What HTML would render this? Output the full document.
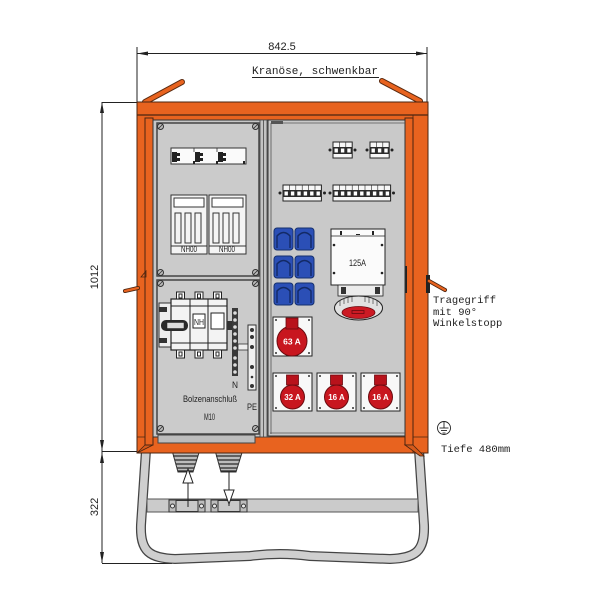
<!DOCTYPE html>
<html><head><meta charset="utf-8"><style>html,body{margin:0;padding:0;background:#fff}svg{display:block}</style></head>
<body>
<svg width="600" height="600" viewBox="0 0 600 600" xmlns="http://www.w3.org/2000/svg">
<rect width="600" height="600" fill="#fff"/>

<!-- ===== dimensions ===== -->
<g stroke="#222" stroke-width="1" fill="none">
  <line x1="137" y1="47" x2="137" y2="102"/>
  <line x1="427" y1="47" x2="427" y2="102"/>
  <line x1="137" y1="53.5" x2="427" y2="53.5"/>
  <line x1="102" y1="102" x2="102" y2="563"/>
  <line x1="102" y1="102.5" x2="137" y2="102.5"/>
  <line x1="102" y1="451.5" x2="142" y2="451.5"/>
  <line x1="102" y1="563.5" x2="172" y2="563.5"/>
  <line x1="252" y1="77.5" x2="379" y2="77.5"/>
</g>
<g fill="#222">
  <polygon points="137,53.5 148,51.5 148,55.5"/>
  <polygon points="427,53.5 416,51.5 416,55.5"/>
  <polygon points="102,102 100,113 104,113"/>
  <polygon points="102,451 100,440 104,440"/>
  <polygon points="102,452 100,463 104,463"/>
  <polygon points="102,563 100,552 104,552"/>
</g>
<text x="282" y="50" font-family="Liberation Sans, sans-serif" font-size="11" text-anchor="middle" fill="#222">842.5</text>
<text x="252" y="74" font-family="Liberation Mono, monospace" font-size="11" fill="#222" textLength="126" lengthAdjust="spacingAndGlyphs">Kranöse, schwenkbar</text>
<text transform="translate(98,277) rotate(-90)" font-family="Liberation Sans, sans-serif" font-size="11" text-anchor="middle" fill="#222">1012</text>
<text transform="translate(98,507) rotate(-90)" font-family="Liberation Sans, sans-serif" font-size="11" text-anchor="middle" fill="#222">322</text>

<!-- ===== crane lugs ===== -->
<g stroke-linecap="round">
  <line x1="145" y1="102" x2="182" y2="82" stroke="#5a2a10" stroke-width="6"/>
  <line x1="145" y1="102" x2="182" y2="82" stroke="#e8631f" stroke-width="4"/>
  <line x1="382" y1="81" x2="420" y2="101" stroke="#5a2a10" stroke-width="6"/>
  <line x1="382" y1="81" x2="420" y2="101" stroke="#e8631f" stroke-width="4"/>
</g>

<!-- ===== stand tube ===== -->
<path d="M146,450 L141,525 C140,552 150,558 175,559 L250,556 Q280,552 310,556 L390,559 C415,558 425,552 424,525 L419,450" fill="none" stroke="#444" stroke-width="10"/>
<path d="M146,450 L141,525 C140,552 150,558 175,559 L250,556 Q280,552 310,556 L390,559 C415,558 425,552 424,525 L419,450" fill="none" stroke="#cfcfcf" stroke-width="7.5"/>
<!-- crossbar -->
<rect x="147" y="499" width="271" height="13" fill="#cbcbcb" stroke="#555" stroke-width="1"/>
<!-- clamps -->
<g stroke="#333" stroke-width="1">
  <rect x="169" y="500" width="36" height="12" fill="#bdbdbd"/>
  <rect x="176" y="500.5" width="22" height="11" fill="#c8c8c8"/>
  <circle cx="172.5" cy="506" r="2" fill="#eee"/>
  <circle cx="201.5" cy="506" r="2" fill="#eee"/>
  <rect x="211" y="500" width="36" height="12" fill="#bdbdbd"/>
  <rect x="218" y="500.5" width="22" height="11" fill="#c8c8c8"/>
  <circle cx="214.5" cy="506" r="2" fill="#eee"/>
  <circle cx="243.5" cy="506" r="2" fill="#eee"/>
</g>

<!-- ===== cable glands ===== -->
<g>
  <polygon points="170,443 202,443 193,472 178,472" fill="#bcbcbc" stroke="#333" stroke-width="1"/>
  <polygon points="213,443 245,443 236,472 221,472" fill="#bcbcbc" stroke="#333" stroke-width="1"/>
  <g stroke="#2a2a2a" stroke-width="1.3">
    <line x1="171" y1="448" x2="201" y2="448"/><line x1="172" y1="452" x2="199" y2="452"/>
    <line x1="173" y1="456" x2="198" y2="456"/><line x1="175" y1="460" x2="197" y2="460"/>
    <line x1="176" y1="464" x2="195" y2="464"/><line x1="177" y1="468" x2="194" y2="468"/>
    <line x1="178" y1="471" x2="193" y2="471"/>
    <line x1="214" y1="448" x2="244" y2="448"/><line x1="215" y1="452" x2="242" y2="452"/>
    <line x1="216" y1="456" x2="241" y2="456"/><line x1="218" y1="460" x2="240" y2="460"/>
    <line x1="219" y1="464" x2="238" y2="464"/><line x1="220" y1="468" x2="237" y2="468"/>
    <line x1="221" y1="471" x2="236" y2="471"/>
  </g>
</g>
<!-- in/out arrows -->
<g stroke="#222" stroke-width="1" fill="#fff">
  <line x1="188" y1="474" x2="188" y2="507"/>
  <polygon points="188,469 183,483 193,483"/>
  <line x1="229" y1="472" x2="229" y2="506"/>
  <polygon points="224,490 234,490 229,504"/>
</g>

<!-- ===== cabinet orange body ===== -->
<rect x="137" y="102" width="291" height="351" fill="#e8631f" stroke="#4a2410" stroke-width="1"/>
<line x1="137" y1="115" x2="428" y2="115" stroke="#4a2410" stroke-width="1.2"/>
<line x1="153" y1="120" x2="413" y2="120" stroke="#4a2410" stroke-width="0.8"/>
<line x1="137" y1="437" x2="428" y2="437" stroke="#4a2410" stroke-width="0.8"/>
<polygon points="137,453 145,445 153,445" fill="#d65a1b" stroke="#4a2410" stroke-width="0.8"/>
<!-- door strips -->
<rect x="145" y="118" width="8" height="327" fill="#e8631f" stroke="#4a2410" stroke-width="1"/>
<rect x="405" y="118" width="8" height="327" fill="#e8631f" stroke="#4a2410" stroke-width="1"/>
<line x1="413" y1="115" x2="413" y2="453" stroke="#4a2410" stroke-width="0.8"/>
<polygon points="405,445 413,445 424,456 420,456" fill="#d65a1b" stroke="#4a2410" stroke-width="0.8"/>

<!-- left door latches / small parts -->
<rect x="153" y="173" width="7" height="13" fill="#e8631f" stroke="#4a2410" stroke-width="0.8"/>
<rect x="153" y="375" width="7" height="10" fill="#e8631f" stroke="#4a2410" stroke-width="0.8"/>
<path d="M141,277 L146,271 L146,277 Z" fill="none" stroke="#4a2410" stroke-width="0.8"/>
<!-- left handle -->
<line x1="125" y1="291" x2="138" y2="288" stroke="#4a2410" stroke-width="4" stroke-linecap="round"/>
<line x1="125" y1="291" x2="138" y2="288" stroke="#e8631f" stroke-width="2.4" stroke-linecap="round"/>
<!-- right handle -->
<rect x="426" y="275" width="4" height="18" fill="#222"/>
<line x1="429" y1="281" x2="445" y2="290" stroke="#4a2410" stroke-width="4" stroke-linecap="round"/>
<line x1="429" y1="281" x2="445" y2="290" stroke="#e8631f" stroke-width="2.4" stroke-linecap="round"/>
<rect x="403" y="266" width="4" height="27" fill="#222"/>

<!-- ===== left section ===== -->
<rect x="153" y="120" width="109" height="317" fill="#c7c7c7" stroke="#333" stroke-width="1"/>
<rect x="157" y="123" width="102" height="153" fill="#cbcbcb" stroke="#444" stroke-width="1.5"/>
<rect x="157" y="280" width="102" height="154" fill="#cbcbcb" stroke="#444" stroke-width="1.5"/>
<rect x="158" y="435" width="97" height="8" fill="#bdbdbd" stroke="#444" stroke-width="1"/>
<!-- screws -->
<g fill="#bbb" stroke="#333" stroke-width="1">
  <circle cx="160.5" cy="126.5" r="3"/><circle cx="255.5" cy="126.5" r="3"/>
  <circle cx="160.5" cy="272.5" r="3"/><circle cx="255.5" cy="272.5" r="3"/>
  <circle cx="160.5" cy="283.5" r="3"/><circle cx="255.5" cy="283.5" r="3"/>
  <circle cx="160.5" cy="428.5" r="3"/><circle cx="255.5" cy="428.5" r="3"/>
</g>
<g stroke="#333" stroke-width="0.8">
  <line x1="158.5" y1="128.5" x2="162.5" y2="124.5"/><line x1="253.5" y1="128.5" x2="257.5" y2="124.5"/>
  <line x1="158.5" y1="274.5" x2="162.5" y2="270.5"/><line x1="253.5" y1="274.5" x2="257.5" y2="270.5"/>
  <line x1="158.5" y1="285.5" x2="162.5" y2="281.5"/><line x1="253.5" y1="285.5" x2="257.5" y2="281.5"/>
  <line x1="158.5" y1="430.5" x2="162.5" y2="426.5"/><line x1="253.5" y1="430.5" x2="257.5" y2="426.5"/>
</g>

<!-- fuse strip -->
<rect x="171" y="148" width="75" height="16" fill="#fafafa" stroke="#333" stroke-width="1"/>
<g fill="#222">
  <rect x="172" y="152" width="5" height="10"/><rect x="177" y="153" width="3" height="3"/><rect x="177" y="158" width="3" height="3"/>
  <rect x="195" y="152" width="5" height="10"/><rect x="200" y="153" width="3" height="3"/><rect x="200" y="158" width="3" height="3"/>
  <rect x="218" y="152" width="5" height="10"/><rect x="223" y="153" width="3" height="3"/><rect x="223" y="158" width="3" height="3"/>
  <rect x="193" y="161" width="2" height="3"/><rect x="216" y="161" width="2" height="3"/><rect x="243" y="161" width="2" height="3"/>
</g>
<line x1="194" y1="148" x2="194" y2="152" stroke="#333" stroke-width="0.8"/>
<line x1="217" y1="148" x2="217" y2="152" stroke="#333" stroke-width="0.8"/>

<!-- NH00 fuse bases -->
<g stroke="#333" stroke-width="1" fill="#f4f4f4">
  <rect x="171" y="195" width="36" height="59"/>
  <rect x="174" y="198" width="30" height="9" fill="#fff"/>
  <rect x="175" y="213" width="6" height="30"/><rect x="185" y="213" width="6" height="30"/><rect x="195" y="213" width="6" height="30"/>
  <line x1="171" y1="246" x2="207" y2="246"/>
  <rect x="209" y="195" width="37" height="59"/>
  <rect x="212" y="198" width="31" height="9" fill="#fff"/>
  <rect x="213" y="213" width="6" height="30"/><rect x="223" y="213" width="6" height="30"/><rect x="233" y="213" width="6" height="30"/>
  <line x1="209" y1="246" x2="246" y2="246"/>
</g>
<text x="181" y="252" font-family="Liberation Sans, sans-serif" font-size="8" fill="#222" textLength="16" lengthAdjust="spacingAndGlyphs">NH00</text>
<text x="219" y="252" font-family="Liberation Sans, sans-serif" font-size="8" fill="#222" textLength="16" lengthAdjust="spacingAndGlyphs">NH00</text>

<!-- switch disconnector -->
<rect x="159" y="303" width="12" height="44" fill="#eeeeee" stroke="#333" stroke-width="1"/>
<rect x="159" y="307" width="8" height="5" fill="#333"/>
<rect x="159" y="338" width="8" height="5" fill="#333"/>
<rect x="171" y="299" width="56" height="51" fill="#f3f3f3" stroke="#222" stroke-width="1.2"/>
<g stroke="#222" stroke-width="1">
  <line x1="190" y1="299" x2="190" y2="350"/><line x1="208" y1="299" x2="208" y2="350"/>
  <line x1="171" y1="306" x2="227" y2="306"/><line x1="171" y1="343" x2="227" y2="343"/>
</g>
<g stroke="#222" stroke-width="1" fill="#fff">
  <rect x="176.5" y="292" width="8" height="7"/><rect x="195" y="292" width="8" height="7"/><rect x="213.5" y="292" width="8" height="7"/>
  <rect x="176.5" y="350" width="8" height="8"/><rect x="195" y="350" width="8" height="8"/><rect x="213.5" y="350" width="8" height="8"/>
  <rect x="179" y="294" width="3" height="4"/><rect x="197.5" y="294" width="3" height="4"/><rect x="216" y="294" width="3" height="4"/>
  <rect x="179" y="352" width="3" height="4"/><rect x="197.5" y="352" width="3" height="4"/><rect x="216" y="352" width="3" height="4"/>
  <rect x="193" y="314" width="12" height="14"/>
  <rect x="211" y="313" width="13" height="16"/>
</g>
<text x="194" y="325" font-family="Liberation Sans, sans-serif" font-size="8" fill="#222" textLength="10" lengthAdjust="spacingAndGlyphs">NH</text>
<rect x="161" y="320" width="27" height="11" rx="5" fill="#2a2a2a"/>
<rect x="167" y="322.5" width="17" height="6" fill="#ddd" stroke="#222" stroke-width="0.5"/>
<rect x="227" y="321" width="5" height="9" fill="#333"/>

<!-- N and PE bars -->
<rect x="232" y="308" width="6" height="68" fill="#3a3a3a"/>
<g fill="#ddd">
  <circle cx="235" cy="313" r="1.8"/><circle cx="235" cy="320" r="1.8"/><circle cx="235" cy="327" r="1.8"/>
  <circle cx="235" cy="334" r="1.8"/><circle cx="235" cy="341" r="1.8"/><circle cx="235" cy="348" r="1.8"/>
  <circle cx="235" cy="358" r="1.8"/><circle cx="235" cy="365" r="1.8"/><circle cx="235" cy="372" r="1.8"/>
</g>
<rect x="238" y="344" width="10" height="6" fill="#eee" stroke="#333" stroke-width="0.8"/>
<rect x="248" y="325" width="8" height="65" fill="#f0f0f0" stroke="#333" stroke-width="1"/>
<g fill="#333">
  <circle cx="252" cy="330" r="2"/><circle cx="252" cy="337" r="2"/><circle cx="252" cy="347" r="2"/>
  <circle cx="252" cy="367" r="2"/><circle cx="252" cy="377" r="1.3"/><circle cx="252" cy="386" r="2"/>
</g>
<text x="232" y="388" font-family="Liberation Sans, sans-serif" font-size="9" fill="#222" textLength="6" lengthAdjust="spacingAndGlyphs">N</text>
<text x="247" y="410" font-family="Liberation Sans, sans-serif" font-size="9" fill="#222" textLength="10" lengthAdjust="spacingAndGlyphs">PE</text>
<text x="183" y="402" font-family="Liberation Sans, sans-serif" font-size="9.5" fill="#222" textLength="54" lengthAdjust="spacingAndGlyphs">Bolzenanschluß</text>
<text x="204" y="420" font-family="Liberation Sans, sans-serif" font-size="9" fill="#222" textLength="11" lengthAdjust="spacingAndGlyphs">M10</text>

<!-- ===== divider ===== -->
<rect x="260" y="120" width="10" height="317" fill="#c3c3c3" stroke="#444" stroke-width="0.8"/>
<line x1="263.5" y1="120" x2="263.5" y2="437" stroke="#444" stroke-width="0.8"/>
<line x1="267" y1="120" x2="267" y2="437" stroke="#444" stroke-width="0.8"/>

<!-- ===== right panel ===== -->
<rect x="268" y="120" width="137" height="316" fill="#c9c9c9" stroke="#333" stroke-width="1"/>
<line x1="271" y1="123" x2="271" y2="434" stroke="#555" stroke-width="0.8"/>
<line x1="271" y1="123" x2="405" y2="123" stroke="#555" stroke-width="0.8"/>
<line x1="270" y1="433" x2="405" y2="433" stroke="#555" stroke-width="0.8"/>
<rect x="271" y="121" width="12" height="3" fill="#555"/>

<!-- breakers -->
<g id="brk">
  <rect x="333" y="142" width="19.2" height="16" fill="#f7f7f7" stroke="#222" stroke-width="1"/>
  <rect x="333" y="147" width="19.2" height="7" fill="#2b2b2b"/>
  <rect x="370" y="142" width="19.2" height="16" fill="#f7f7f7" stroke="#222" stroke-width="1"/>
  <rect x="370" y="147" width="19.2" height="7" fill="#2b2b2b"/>
  <rect x="283" y="185" width="38.4" height="16" fill="#f7f7f7" stroke="#222" stroke-width="1"/>
  <rect x="283" y="190" width="38.4" height="7" fill="#2b2b2b"/>
  <rect x="333" y="185" width="57.6" height="16" fill="#f7f7f7" stroke="#222" stroke-width="1"/>
  <rect x="333" y="190" width="57.6" height="7" fill="#2b2b2b"/>
</g>
<g fill="#fff">
  <rect x="334.5" y="148.5" width="3.4" height="4"/><rect x="340.9" y="148.5" width="3.4" height="4"/><rect x="347.3" y="148.5" width="3.4" height="4"/>
  <rect x="371.5" y="148.5" width="3.4" height="4"/><rect x="377.9" y="148.5" width="3.4" height="4"/><rect x="384.3" y="148.5" width="3.4" height="4"/>
  <rect x="284.5" y="191.5" width="3.4" height="4"/><rect x="290.9" y="191.5" width="3.4" height="4"/><rect x="297.3" y="191.5" width="3.4" height="4"/>
  <rect x="303.7" y="191.5" width="3.4" height="4"/><rect x="310.1" y="191.5" width="3.4" height="4"/><rect x="316.5" y="191.5" width="3.4" height="4"/>
  <rect x="334.5" y="191.5" width="3.4" height="4"/><rect x="340.9" y="191.5" width="3.4" height="4"/><rect x="347.3" y="191.5" width="3.4" height="4"/>
  <rect x="353.7" y="191.5" width="3.4" height="4"/><rect x="360.1" y="191.5" width="3.4" height="4"/><rect x="366.5" y="191.5" width="3.4" height="4"/>
  <rect x="372.9" y="191.5" width="3.4" height="4"/><rect x="379.3" y="191.5" width="3.4" height="4"/><rect x="385.7" y="191.5" width="3.4" height="4"/>
</g>
<g stroke="#222" stroke-width="0.6">
  <line x1="339.4" y1="142" x2="339.4" y2="147"/><line x1="345.8" y1="142" x2="345.8" y2="147"/>
  <line x1="376.4" y1="142" x2="376.4" y2="147"/><line x1="382.8" y1="142" x2="382.8" y2="147"/>
  <line x1="289.4" y1="185" x2="289.4" y2="190"/><line x1="295.8" y1="185" x2="295.8" y2="190"/><line x1="302.2" y1="185" x2="302.2" y2="190"/>
  <line x1="308.6" y1="185" x2="308.6" y2="190"/><line x1="315" y1="185" x2="315" y2="190"/>
  <line x1="339.4" y1="185" x2="339.4" y2="190"/><line x1="345.8" y1="185" x2="345.8" y2="190"/><line x1="352.2" y1="185" x2="352.2" y2="190"/>
  <line x1="358.6" y1="185" x2="358.6" y2="190"/><line x1="365" y1="185" x2="365" y2="190"/><line x1="371.4" y1="185" x2="371.4" y2="190"/>
  <line x1="377.8" y1="185" x2="377.8" y2="190"/><line x1="384.2" y1="185" x2="384.2" y2="190"/>
</g>
<g fill="#222">
  <circle cx="330" cy="150" r="1.5"/><circle cx="355" cy="150" r="1.5"/>
  <circle cx="367" cy="150" r="1.5"/><circle cx="392" cy="150" r="1.5"/>
  <circle cx="280" cy="193" r="1.5"/><circle cx="324.5" cy="193" r="1.5"/>
  <circle cx="330" cy="193" r="1.5"/><circle cx="393.5" cy="193" r="1.5"/>
</g>

<!-- blue sockets -->
<g stroke="#15306e" stroke-width="1">
  <rect x="274" y="228" width="19" height="22" rx="3" fill="#2b4fb6"/>
  <rect x="295" y="228" width="19" height="22" rx="3" fill="#2b4fb6"/>
  <rect x="274" y="256" width="19" height="22" rx="3" fill="#2b4fb6"/>
  <rect x="295" y="256" width="19" height="22" rx="3" fill="#2b4fb6"/>
  <rect x="274" y="283" width="19" height="22" rx="3" fill="#2b4fb6"/>
  <rect x="295" y="283" width="19" height="22" rx="3" fill="#2b4fb6"/>
</g>
<g fill="none" stroke="#132a66" stroke-width="1.4">
  <path d="M277,248 V236 Q283.5,229 290,236 V248"/>
  <path d="M298,248 V236 Q304.5,229 311,236 V248"/>
  <path d="M277,276 V264 Q283.5,257 290,264 V276"/>
  <path d="M298,276 V264 Q304.5,257 311,264 V276"/>
  <path d="M277,303 V291 Q283.5,284 290,291 V303"/>
  <path d="M298,303 V291 Q304.5,284 311,291 V303"/>
</g>

<!-- 125A CEE socket -->
<rect x="331" y="229" width="54" height="56" fill="#fbfbfb" stroke="#222" stroke-width="1"/>
<line x1="331" y1="236" x2="385" y2="236" stroke="#222" stroke-width="0.8"/>
<g fill="#222">
  <rect x="340" y="231" width="2" height="4"/><rect x="372" y="231" width="2" height="4"/><rect x="356" y="234" width="4" height="1"/>
  <circle cx="334" cy="245" r="1.3"/><circle cx="382" cy="245" r="1.3"/>
  <circle cx="334" cy="273" r="1.3"/><circle cx="382" cy="273" r="1.3"/>
</g>
<text x="349" y="266" font-family="Liberation Sans, sans-serif" font-size="9" fill="#222" textLength="17" lengthAdjust="spacingAndGlyphs">125A</text>
<rect x="338" y="285" width="45" height="11" fill="#ececec" stroke="#222" stroke-width="0.8"/>
<rect x="341" y="287" width="5" height="7" fill="#333"/><rect x="375" y="287" width="5" height="7" fill="#333"/>
<ellipse cx="358.5" cy="308" rx="24" ry="12" fill="#e2e2e2" stroke="#222" stroke-width="1"/>
<g stroke="#444" stroke-width="0.7">
  <line x1="340" y1="300" x2="340" y2="306"/><line x1="344" y1="298" x2="344" y2="304"/><line x1="348" y1="297" x2="348" y2="303"/>
  <line x1="352" y1="297" x2="352" y2="302"/><line x1="365" y1="297" x2="365" y2="302"/><line x1="369" y1="297" x2="369" y2="303"/>
  <line x1="373" y1="298" x2="373" y2="304"/><line x1="377" y1="300" x2="377" y2="306"/>
</g>
<ellipse cx="358.5" cy="312.5" rx="16.5" ry="6" fill="#cc1a24" stroke="#6a0b10" stroke-width="0.8"/>
<rect x="352" y="310.5" width="12" height="3" fill="none" stroke="#6a0b10" stroke-width="0.8"/>

<!-- 63A socket -->
<rect x="273" y="317" width="39" height="39" fill="#f8f8f8" stroke="#222" stroke-width="1"/>
<g fill="#333"><circle cx="276" cy="320" r="1"/><circle cx="309" cy="320" r="1"/><circle cx="276" cy="353" r="1"/><circle cx="309" cy="353" r="1"/></g>
<circle cx="292" cy="341" r="15" fill="#c8161f" stroke="#6a0b10" stroke-width="1"/>
<rect x="286" y="318" width="12" height="11" fill="#b8121b" stroke="#6a0b10" stroke-width="0.8"/>
<text x="292" y="344.5" font-family="Liberation Sans, sans-serif" font-size="8.5" font-weight="bold" fill="#fff" text-anchor="middle">63 A</text>

<!-- 32A/16A/16A sockets -->
<g>
  <rect x="273" y="373" width="39" height="38" fill="#f8f8f8" stroke="#222" stroke-width="1"/>
  <rect x="317" y="373" width="39" height="38" fill="#f8f8f8" stroke="#222" stroke-width="1"/>
  <rect x="361" y="373" width="39" height="38" fill="#f8f8f8" stroke="#222" stroke-width="1"/>
  <g fill="#333">
    <circle cx="276" cy="376" r="1"/><circle cx="309" cy="376" r="1"/><circle cx="276" cy="408" r="1"/><circle cx="309" cy="408" r="1"/>
    <circle cx="320" cy="376" r="1"/><circle cx="353" cy="376" r="1"/><circle cx="320" cy="408" r="1"/><circle cx="353" cy="408" r="1"/>
    <circle cx="364" cy="376" r="1"/><circle cx="397" cy="376" r="1"/><circle cx="364" cy="408" r="1"/><circle cx="397" cy="408" r="1"/>
  </g>
  <g fill="#c8161f" stroke="#6a0b10" stroke-width="1">
    <circle cx="292.5" cy="397" r="12"/>
    <circle cx="336.5" cy="397" r="12"/>
    <circle cx="380.5" cy="397" r="12"/>
  </g>
  <g fill="#b8121b" stroke="#6a0b10" stroke-width="0.8">
    <rect x="286.5" y="375" width="12" height="10"/>
    <rect x="330.5" y="375" width="12" height="10"/>
    <rect x="374.5" y="375" width="12" height="10"/>
  </g>
  <g font-family="Liberation Sans, sans-serif" font-size="8" font-weight="bold" fill="#fff" text-anchor="middle">
    <text x="292.5" y="400">32 A</text>
    <text x="336.5" y="400">16 A</text>
    <text x="380.5" y="400">16 A</text>
  </g>
</g>

<!-- ===== right labels ===== -->
<g font-family="Liberation Mono, monospace" font-size="10.5" fill="#222">
  <text x="433" y="303">Tragegriff</text>
  <text x="433" y="315">mit 90°</text>
  <text x="433" y="326">Winkelstopp</text>
  <text x="441" y="452">Tiefe 480mm</text>
</g>
<!-- earth symbol -->
<g stroke="#222" stroke-width="0.9" fill="none">
  <circle cx="444" cy="428" r="6.5"/>
  <line x1="444" y1="422" x2="444" y2="428"/>
  <line x1="439.5" y1="428" x2="448.5" y2="428"/>
  <line x1="441" y1="430.5" x2="447" y2="430.5"/>
  <line x1="442.5" y1="433" x2="445.5" y2="433"/>
</g>
</svg>
</body></html>
